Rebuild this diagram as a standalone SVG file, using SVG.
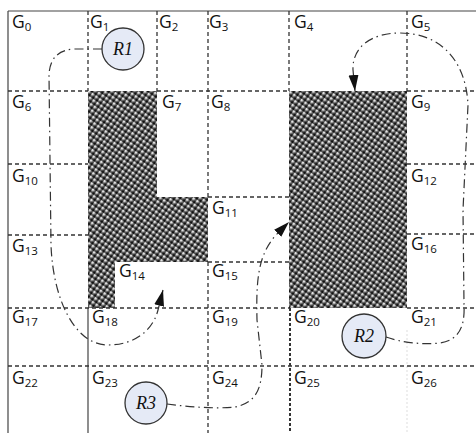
<svg xmlns="http://www.w3.org/2000/svg" width="476" height="433" viewBox="0 0 476 433">
<defs>
<pattern id="chk" width="4.6" height="4.6" patternUnits="userSpaceOnUse" patternTransform="rotate(35)">
<rect width="4.6" height="4.6" fill="#5a5a5a"/>
<rect x="0" y="0" width="2.3" height="2.3" fill="#e2e2e2"/>
<rect x="2.3" y="2.3" width="2.3" height="2.3" fill="#111"/>
</pattern>
<marker id="ahb" viewBox="0 0 16 10" refX="16" refY="5" markerWidth="16" markerHeight="11" markerUnits="userSpaceOnUse" orient="auto">
<path d="M0,0 L16,5 L0,10 Z" fill="#111"/>
</marker>
</defs>
<style>
.dash{stroke:#333;stroke-width:1.3;stroke-dasharray:4 3;fill:none}
.solid{stroke:#444;stroke-width:1.2;fill:none}
.lbl{font-family:"Open Sans","Liberation Sans",sans-serif;font-size:17.5px;fill:#111}
.sub{font-size:11.5px}
.robot circle{fill:#e5eaf6;stroke:#333;stroke-width:1.3}
.robot text{font-family:"Liberation Serif",serif;font-style:italic;font-size:18px;fill:#111;text-anchor:middle}
.route{stroke:#333;stroke-width:1.2;fill:none;stroke-dasharray:9 4 1.5 4}
</style>
<rect width="476" height="433" fill="#fff"/>
<g id="obstacles">
<path d="M88,91 H157 V197 H208 V262 H115 V308 H88 Z" fill="url(#chk)"/>
<rect x="289" y="91" width="118" height="217" fill="url(#chk)"/>
</g>
<g id="grid">
<line class="solid" x1="8" y1="11" x2="476" y2="11"/>
<line class="solid" x1="8" y1="11" x2="8" y2="433"/>
<line class="solid" x1="88" y1="308" x2="88" y2="433"/>
<line class="dash" x1="88" y1="11" x2="88" y2="91"/>
<line class="dash" x1="157" y1="11" x2="157" y2="91"/>
<line class="dash" x1="208" y1="11" x2="208" y2="197"/>
<line class="dash" x1="208" y1="262" x2="208" y2="433"/>
<line class="dash" x1="289" y1="11" x2="289" y2="91"/>
<line class="dash" x1="290" y1="308" x2="290" y2="433" style="stroke-width:2;stroke-dasharray:3 2"/>
<line class="dash" x1="407" y1="11" x2="407" y2="91"/>
<line x1="407" y1="330" x2="407" y2="433" stroke="#ddd" stroke-width="1" stroke-dasharray="2 2"/>
<line class="dash" x1="8" y1="91" x2="88" y2="91"/>
<line class="dash" x1="157" y1="91" x2="289" y2="91"/>
<line class="dash" x1="407" y1="91" x2="476" y2="91"/>
<line class="dash" x1="8" y1="164" x2="88" y2="164"/>
<line class="dash" x1="407" y1="164" x2="476" y2="164"/>
<line class="dash" x1="208" y1="197" x2="289" y2="197"/>
<line class="dash" x1="8" y1="235" x2="88" y2="235"/>
<line class="dash" x1="407" y1="234" x2="476" y2="234"/>
<line class="dash" x1="208" y1="262" x2="289" y2="262"/>
<line class="dash" x1="8" y1="308" x2="289" y2="308"/>
<line class="dash" x1="407" y1="308" x2="476" y2="308"/>
<line class="dash" x1="8" y1="366" x2="476" y2="366"/>
</g>
<g id="labels" class="lbl">
<text x="12" y="28">G<tspan class="sub" dy="3">0</tspan></text>
<text x="90" y="28">G<tspan class="sub" dy="3">1</tspan></text>
<text x="159" y="28">G<tspan class="sub" dy="3">2</tspan></text>
<text x="209" y="28">G<tspan class="sub" dy="3">3</tspan></text>
<text x="294" y="28">G<tspan class="sub" dy="3">4</tspan></text>
<text x="411" y="28">G<tspan class="sub" dy="3">5</tspan></text>
<text x="12" y="108">G<tspan class="sub" dy="3">6</tspan></text>
<text x="162" y="108">G<tspan class="sub" dy="3">7</tspan></text>
<text x="211" y="108">G<tspan class="sub" dy="3">8</tspan></text>
<text x="411" y="108">G<tspan class="sub" dy="3">9</tspan></text>
<text x="12" y="182">G<tspan class="sub" dy="3">10</tspan></text>
<text x="212" y="214">G<tspan class="sub" dy="3">11</tspan></text>
<text x="411" y="182">G<tspan class="sub" dy="3">12</tspan></text>
<text x="12" y="252">G<tspan class="sub" dy="3">13</tspan></text>
<text x="119" y="277">G<tspan class="sub" dy="3">14</tspan></text>
<text x="212" y="277">G<tspan class="sub" dy="3">15</tspan></text>
<text x="411" y="250">G<tspan class="sub" dy="3">16</tspan></text>
<text x="12" y="323">G<tspan class="sub" dy="3">17</tspan></text>
<text x="92" y="323">G<tspan class="sub" dy="3">18</tspan></text>
<text x="212" y="323">G<tspan class="sub" dy="3">19</tspan></text>
<text x="294" y="323">G<tspan class="sub" dy="3">20</tspan></text>
<text x="411" y="323">G<tspan class="sub" dy="3">21</tspan></text>
<text x="12" y="384">G<tspan class="sub" dy="3">22</tspan></text>
<text x="92" y="384">G<tspan class="sub" dy="3">23</tspan></text>
<text x="212" y="384">G<tspan class="sub" dy="3">24</tspan></text>
<text x="294" y="384">G<tspan class="sub" dy="3">25</tspan></text>
<text x="411" y="384">G<tspan class="sub" dy="3">26</tspan></text>
</g>
<g id="connectors">
<path class="route" d="M102,49 L75,49 Q50,50 49,75 L51,245 C53,300 75,345 108,345 C135,345 153,330 158,310 L163,290" marker-end="url(#ahb)"/>
<path class="route" d="M386,337 C400,342 420,345 440,343 C460,340 465,325 464,305 L463,210 L468,105 C466,60 440,33 400,33 C370,33 352,48 353,70 L355,91" marker-end="url(#ahb)"/>
<path class="route" d="M167,404 C190,407 215,409 235,407 C255,403 262,390 262,365 L257,320 C256,280 258,255 276,235 L289,222" marker-end="url(#ahb)"/>
</g>
<g id="R1" class="robot"><circle cx="123" cy="49" r="21"/><text x="123" y="55">R1</text></g>
<g id="R2" class="robot"><circle cx="364" cy="336" r="22"/><text x="364" y="342">R2</text></g>
<g id="R3" class="robot"><circle cx="146" cy="403" r="21"/><text x="146" y="409">R3</text></g>
</svg>
